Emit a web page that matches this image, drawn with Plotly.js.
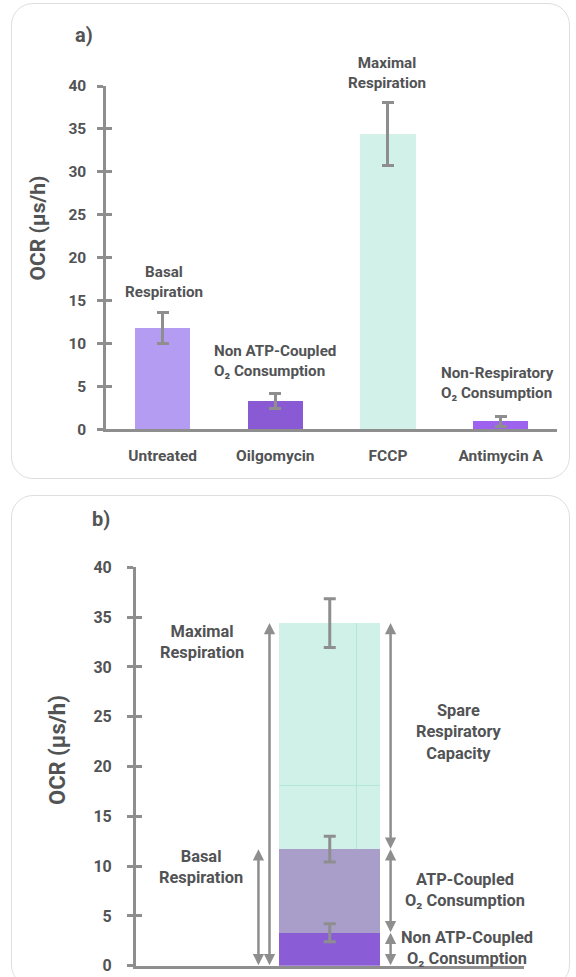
<!DOCTYPE html>
<html><head><meta charset="utf-8">
<script src="https://cdn.plot.ly/plotly-3.0.1.min.js"></script>
<style>
html,body{margin:0;padding:0;background:#fff;}
#wrap{position:relative;width:576px;height:977px;overflow:hidden;}
.box{position:absolute;border:1.5px solid #dedede;border-radius:22px;box-sizing:border-box;}
#plot{position:absolute;left:0;top:0;width:576px;height:977px;}
</style></head><body>
<div id="wrap">
<div class="box" style="left:11px;top:3px;width:559px;height:476px;"></div>
<div class="box" style="left:11px;top:495px;width:559px;height:492px;"></div>
<div id="plot"></div>
</div>
<script>
// ---- Panel a data ----
const categories = ['Untreated', 'Oilgomycin', 'FCCP', 'Antimycin A'];
const ocrValues = [11.8, 3.3, 34.4, 0.95];
const ocrErrors = [1.85, 0.87, 3.7, 0.6];
const barColors = ['#b49cf3', '#8a5ad5', '#d1f1e9', '#9d63ee'];
const labelsA = ['Basal<br>Respiration', 'Non ATP-Coupled<br>O₂ Consumption', 'Maximal<br>Respiration', 'Non-Respiratory<br>O₂ Consumption'];

// ---- Panel b data ----
const stackNames = ['Non ATP-Coupled O₂ Consumption', 'ATP-Coupled O₂ Consumption', 'Spare Respiratory Capacity'];
const stackSegments = [3.3, 8.4, 22.7];
const stackErrors = [0.9, 1.3, 2.45];
const stackColors = ['#8a5cd6', '#a99ec9', '#d0f1e8'];
const yTicks = [0, 5, 10, 15, 20, 25, 30, 35, 40];

const W = 576, H = 977;
const px = x => x / W, py = y => 1 - y / H;
const gray = '#8e8e8e', txt = '#525355';
const FF = 'Roboto, "Open Sans", sans-serif';
const bold = (s, c) => ({family: FF, size: s, color: c || txt, weight: 'bold'});

// cumulative tops of the stacked segments
const stackTops = [];
stackSegments.reduce((acc, v) => { const t = +(acc + v).toFixed(2); stackTops.push(t); return t; }, 0);
const nonATP = stackTops[0], basal = stackTops[1], maximal = stackTops[2];

const traces = [];
traces.push({
  type: 'bar', x: categories, y: ocrValues, width: 0.49,
  marker: {color: barColors}, xaxis: 'x', yaxis: 'y', hoverinfo: 'skip',
  error_y: {type: 'data', array: ocrErrors, visible: true, color: gray, thickness: 3, width: 6}
});
stackSegments.forEach((v, i) => traces.push({
  type: 'bar', name: stackNames[i], x: [0.5], y: [v], width: 0.26,
  marker: {color: stackColors[i]}, xaxis: 'x2', yaxis: 'y2', hoverinfo: 'skip'
}));
traces.push({
  type: 'scatter', mode: 'markers', x: [0.5, 0.5, 0.5], y: stackTops,
  marker: {size: 1, opacity: 0}, xaxis: 'x2', yaxis: 'y2', hoverinfo: 'skip',
  error_y: {type: 'data', array: stackErrors, visible: true, color: gray, thickness: 3, width: 6}
});
// overlay axes for ticks crossing the axis line
traces.push({type: 'scatter', x: [], y: [], xaxis: 'x', yaxis: 'y3', hoverinfo: 'skip'});
traces.push({type: 'scatter', x: [], y: [], xaxis: 'x2', yaxis: 'y4', hoverinfo: 'skip'});

const yBase = {
  range: [0, 40], tickvals: yTicks, ticks: 'outside', ticklen: 6, tickwidth: 3, tickcolor: gray,
  showline: true, linecolor: gray, linewidth: 3, showgrid: false, zeroline: false,
  fixedrange: true, ticklabelstandoff: 8
};
const yOver = {
  range: [0, 40], tickvals: yTicks, ticks: 'inside', ticklen: 6, tickwidth: 3, tickcolor: gray,
  showticklabels: false, showline: false, showgrid: false, zeroline: false, fixedrange: true
};

const ann = [];
const addText = (text, x, y, size, opts) => ann.push(Object.assign({
  text: text, x: px(x), y: py(y), xref: 'paper', yref: 'paper', showarrow: false,
  font: bold(size), xanchor: 'center', yanchor: 'middle', align: 'center'
}, opts || {}));

// double arrows [x position (axis fraction), from, to]
const arrows = [
  [0.316, 0, basal],
  [0.3445, 0, maximal],
  [0.657, basal, maximal],
  [0.657, nonATP, basal],
  [0.657, 0, nonATP]
];
arrows.forEach(a => ann.push({
  text: '', xref: 'x2', yref: 'y2', axref: 'x2', ayref: 'y2',
  x: a[0], y: a[2], ax: a[0], ay: a[1],
  showarrow: true, arrowside: 'end+start', arrowhead: 2, startarrowhead: 2,
  arrowsize: 0.9, startarrowsize: 0.9, arrowwidth: 2.5, arrowcolor: gray,
  standoff: 0, startstandoff: 0, font: {size: 1}, borderpad: 0
}));

addText('a)', 84, 35, 20);
addText('b)', 101, 519, 20);
addText('OCR (μs/h)', 37.5, 228, 21, {textangle: -90});
addText('OCR (μs/h)', 57, 750, 22, {textangle: -90});
// panel a labels
addText(labelsA[0], 163.5, 281.7, 15.2);
addText(labelsA[1], 212.3, 361.2, 15.2, {xanchor: 'left', align: 'left'});
addText(labelsA[2], 386.8, 73, 15.2);
addText(labelsA[3], 439.4, 383.4, 15.2, {xanchor: 'left', align: 'left'});
// panel b labels
addText('Maximal<br>Respiration', 202, 641.7, 16.4);
addText('Basal<br>Respiration', 200.6, 866.7, 16.4);
addText('Spare<br>Respiratory<br>Capacity', 459, 731.7, 16.4);
addText('ATP-Coupled<br>O₂ Consumption', 464.7, 890.3, 16.4);
addText('Non ATP-Coupled<br>O₂ Consumption', 466.6, 948.3, 16.4);

const layout = {
  width: W, height: H, margin: {l: 0, r: 0, t: 0, b: 0},
  paper_bgcolor: 'rgba(0,0,0,0)', plot_bgcolor: 'rgba(0,0,0,0)',
  showlegend: false, barmode: 'stack', font: bold(14.5),
  xaxis: {
    domain: [px(106.3), px(557)], range: [-0.5, 3.5], type: 'category', anchor: 'y',
    showline: true, linecolor: gray, linewidth: 3, ticks: '', showgrid: false, zeroline: false,
    tickfont: bold(15.5), ticklabelstandoff: 10, fixedrange: true
  },
  yaxis: Object.assign({}, yBase, {domain: [py(429.3), py(86)], anchor: 'x', tickfont: bold(15.5)}),
  yaxis3: Object.assign({}, yOver, {overlaying: 'y', anchor: 'x'}),
  xaxis2: {
    domain: [px(136), px(523.5)], range: [0, 1], anchor: 'y2',
    showline: true, linecolor: gray, linewidth: 3, ticks: '', showticklabels: false,
    showgrid: false, zeroline: false, fixedrange: true
  },
  yaxis2: Object.assign({}, yBase, {domain: [py(965.7), py(567.3)], anchor: 'x2', tickfont: bold(16), ticklabelstandoff: 12}),
  yaxis4: Object.assign({}, yOver, {overlaying: 'y2', anchor: 'x2'}),
  shapes: [
    {type: 'line', xref: 'x2', yref: 'y2', x0: 0.569, x1: 0.569, y0: basal, y1: maximal, line: {color: '#b3e5d8', width: 1}},
    {type: 'line', xref: 'x2', yref: 'y2', x0: 0.37, x1: 0.63, y0: 18.1, y1: 18.1, line: {color: '#b3e5d8', width: 1}}
  ],
  annotations: ann
};

Plotly.newPlot('plot', traces, layout, {displayModeBar: false, staticPlot: true});
</script>
</body></html>
